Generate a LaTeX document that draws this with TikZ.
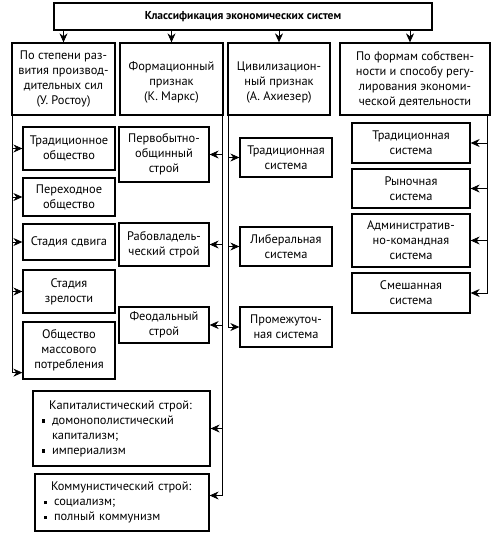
\documentclass[tikz,border=0pt]{standalone}
\usepackage{fontspec}
\setmainfont{PT Sans}
\usetikzlibrary{arrows.meta,calc}
\newcommand\fsz{\fontsize{12.4}{15}\selectfont}
\newcommand\tsz{\fontsize{11.5}{14}\selectfont}
\newcommand\sqbul{\makebox[10pt][l]{\rule[1.5pt]{3.4pt}{3.4pt}}}
\begin{document}
\begin{tikzpicture}[x=1pt,y=-1pt,
  box/.style={draw,line width=1.3pt,align=center,inner sep=1pt,font=\fsz},
  conn/.style={line width=0.7pt},
  arr/.style={conn,-{Stealth[length=9pt,width=8pt,inset=3pt]}}]
\useasboundingbox (0,0) rectangle (495,542);
% top
\node[box,minimum width=378pt,minimum height=27pt,font=\tsz\bfseries] (top) at (243,16.5) {Классификация экономических систем};
% columns
\node[box,minimum width=103pt,minimum height=72pt] (c1) at (63.5,79) {По степени раз-\\вития производ-\\дительных сил\\(У. Ростоу)};
\node[box,minimum width=103pt,minimum height=72pt] (c2) at (171.5,79) {\mbox{}\\Формационный\\признак\\(К. Маркс)};
\node[box,minimum width=102pt,minimum height=72pt] (c3) at (279,79) {\mbox{}\\Цивилизацион-\\ный признак\\(А. Ахиезер)};
\node[box,minimum width=150pt,minimum height=72pt] (c4) at (415,79) {По формам собствен-\\ности и способу регу-\\лирования экономи-\\ческой деятельности};
\draw[arr] (top.south -| c1) -- (c1.north);
\draw[arr] (top.south -| c2) -- (c2.north);
\draw[arr] (top.south -| c3) -- (c3.north);
\draw[arr] ([xshift=-5pt]c4.north |- top.south) -- ([xshift=-5pt]c4.north);
% column 1
\node[box,minimum width=92pt,minimum height=43pt] (t1) at (69,148.5) {Традиционное\\общество};
\node[box,minimum width=92pt,minimum height=38pt] (t2) at (69,197) {Переходное\\общество};
\node[box,minimum width=92pt,minimum height=36pt] (t3) at (69,242) {Стадия сдвига};
\node[box,minimum width=92pt,minimum height=43pt] (t4) at (69,291.5) {Стадия\\зрелости};
\node[box,minimum width=92pt,minimum height=57pt] (t5) at (69,350.5) {Общество\\массового\\потребления};
\coordinate (l1) at ([xshift=1pt]c1.south west);
\draw[arr] (l1) |- ([yshift=7pt]t5.south west);
\foreach \n in {t1,t2,t3,t4} \draw[arr] (l1 |- \n.west) -- (\n.west);
% column 2
\node[box,minimum width=90pt,minimum height=55pt] (p1) at (164,154.5) {Первобытно-\\общинный\\строй};
\node[box,minimum width=90pt,minimum height=43pt] (p2) at (164,244.5) {Рабовладель-\\ческий строй};
\node[box,minimum width=90pt,minimum height=36pt] (p3) at (164,325) {Феодальный\\строй};
\node[box,minimum width=177pt,minimum height=75pt,text width=159pt,inner xsep=9pt,align=left] (p4) at (121.5,428.5) {\hspace*{7pt}Капиталистический строй:\\\sqbul домонополистический\\\hspace*{10pt}капитализм;\\\sqbul империализм};
\node[box,minimum width=174pt,minimum height=57pt,text width=156pt,inner xsep=9pt,align=left] (p5) at (122,502.5) {\hspace*{7pt}Коммунистический строй:\\\sqbul социализм;\\\sqbul полный коммунизм};
\coordinate (l2) at ([xshift=-1pt]c2.south east);
\draw[arr] (l2) |- ([yshift=7pt]p5.east);
\foreach \n in {p1,p2,p3,p4} \draw[arr] (l2 |- \n.east) -- (\n.east);
% column 3
\node[box,minimum width=92pt,minimum height=39pt] (s1) at (286,157.5) {Традиционная\\система};
\node[box,minimum width=92pt,minimum height=39pt] (s2) at (286,246.5) {Либеральная\\система};
\node[box,minimum width=92pt,minimum height=40pt] (s3) at (286,327) {Промежуточ-\\ная система};
\coordinate (l3) at ([xshift=1pt]c3.south west);
\draw[arr] (l3) |- (s3.west);
\foreach \n in {s1,s2} \draw[arr] (l3 |- \n.west) -- (\n.west);
% column 4
\node[box,minimum width=118pt,minimum height=40pt] (r1) at (411,143) {Традиционная\\система};
\node[box,minimum width=118pt,minimum height=39pt] (r2) at (411,188.5) {Рыночная\\система};
\node[box,minimum width=118pt,minimum height=53pt] (r3) at (411,240.5) {Административ-\\но-командная\\система};
\node[box,minimum width=118pt,minimum height=40pt] (r4) at (411,293) {Смешанная\\система};
\coordinate (l4) at ([xshift=-3pt]c4.south east);
\draw[arr] (l4) |- (r4.east);
\foreach \n in {r1,r2,r3} \draw[arr] (l4 |- \n.east) -- (\n.east);
\end{tikzpicture}
\end{document}
